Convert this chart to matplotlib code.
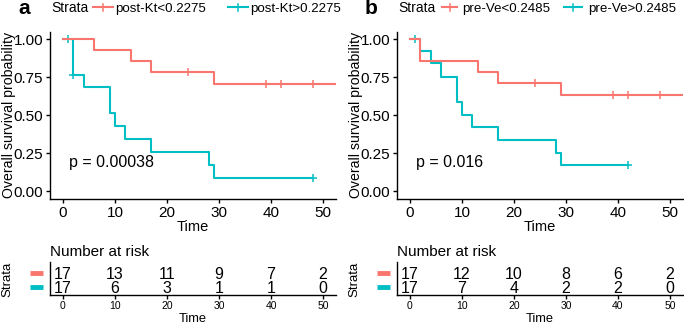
import numpy as np
import matplotlib
matplotlib.use("Agg")
import matplotlib.pyplot as plt
from matplotlib.lines import Line2D

plt.rcParams['font.family'] = ['Liberation Sans', 'DejaVu Sans']

RED = '#F8766D'
CYAN = '#00BFC4'

# ---- data ----
# panel a: post-Kt
a_labels = ['post-Kt<0.2275', 'post-Kt>0.2275']
a_low_t = [0, 6, 13, 17, 29, 55]
a_low_s = [1.0, 0.929, 0.857, 0.786, 0.707, 0.707]
a_low_cens = [24, 39, 42, 48]
a_high_t = [0, 2, 4, 9, 10, 12, 17, 28, 29, 48]
a_high_s = [1.0, 0.765, 0.684, 0.513, 0.428, 0.342, 0.257, 0.171, 0.086, 0.086]
a_high_cens = [1, 2, 48]
a_pval = 'p = 0.00038'
a_risk_low = [17, 13, 11, 9, 7, 2]
a_risk_high = [17, 6, 3, 1, 1, 0]

# panel b: pre-Ve
b_labels = ['pre-Ve<0.2485', 'pre-Ve>0.2485']
b_low_t = [0, 2, 13, 17, 29, 55]
b_low_s = [1.0, 0.857, 0.786, 0.714, 0.635, 0.635]
b_low_cens = [24, 39, 42, 48]
b_high_t = [0, 2, 4, 6, 9, 10, 12, 17, 28, 29, 42]
b_high_s = [1.0, 0.923, 0.846, 0.754, 0.589, 0.503, 0.419, 0.335, 0.251, 0.170, 0.170]
b_high_cens = [1, 42]
b_pval = 'p = 0.016'
b_risk_low = [17, 12, 10, 8, 6, 2]
b_risk_high = [17, 7, 4, 2, 2, 0]

risk_times = [0, 10, 20, 30, 40, 50]

W, H = 684, 325
fig = plt.figure(figsize=(W / 100, H / 100), dpi=100)


def box(left, top, width, height):
    return [left / W, 1 - (top + height) / H, width / W, height / H]


def style_axes(ax):
    for s in ['top', 'right']:
        ax.spines[s].set_visible(False)
    for s in ['left', 'bottom']:
        ax.spines[s].set_linewidth(1.0)
    ax.tick_params(length=3, width=1.0, colors='black')


def km(ax, t, s, cens, color):
    ax.step(t, s, where='post', color=color, lw=1.5, clip_on=True)
    idx = np.searchsorted(t, cens, side='right') - 1
    ax.plot(cens, np.array(s)[idx], ls='none', marker='+', ms=5.5, mew=1.1, color=color)


def panel(x0, letter, labels, low, high, pval, risk_low, risk_high, legend_x):
    ax = fig.add_axes(box(x0, 31.7, 286, 167))
    style_axes(ax)
    km(ax, *high, CYAN)
    km(ax, *low, RED)
    ax.set_xlim(-2.5, 52.5)
    ax.set_ylim(-0.05, 1.05)
    ax.set_xticks(risk_times)
    ax.set_yticks([0, 0.25, 0.5, 0.75, 1.0])
    ax.set_yticklabels(['0.00', '0.25', '0.50', '0.75', '1.00'])
    ax.tick_params(labelsize=11, pad=2)
    ax.set_xlabel('Time', fontsize=10.5, labelpad=0)
    fig.text((x0 - 41) / W, 1 - 115 / H, 'Overall survival probability', rotation=90,
             fontsize=10.2, ha='center', va='center')
    ax.text(1.2, 0.19, pval, fontsize=11.5, va='center', ha='left')

    # header: letter + legend
    fig.text((x0 - 32) / W, 1 - 14.5 / H, letter, fontsize=15, fontweight='bold', va='baseline', ha='left')
    fig.text((x0 + 1) / W, 1 - 12 / H, 'Strata', fontsize=10, va='baseline', ha='left')
    for col, lab, (k0, k1, tx) in zip([RED, CYAN], labels, legend_x):
        fig.add_artist(Line2D([k0 / W, k1 / W], [1 - 7 / H] * 2, color=col, lw=1.5))
        fig.add_artist(Line2D([(k0 + k1) / 2 / W] * 2, [1 - 3.5 / H, 1 - 10.5 / H], color=col, lw=1.1))
        fig.text(tx / W, 1 - 12 / H, lab, fontsize=9.6, va='baseline', ha='left')

    # risk table
    rt = fig.add_axes(box(x0, 262, 286, 33))
    style_axes(rt)
    rt.set_xlim(-2.5, 52.5)
    rt.set_ylim(0, 1)
    rt.set_yticks([])
    rt.set_xticks(risk_times)
    rt.tick_params(axis='x', labelsize=7.5, pad=1.5)
    rt.set_xlabel('Time', fontsize=9.3, labelpad=1)
    for xt, n in zip(risk_times, risk_low):
        rt.text(xt, 0.47, str(n), fontsize=11.5, ha='center', va='baseline')
    for xt, n in zip(risk_times, risk_high):
        rt.text(xt, 0.05, str(n), fontsize=11.5, ha='center', va='baseline')
    fig.text(x0 / W, 1 - 256.5 / H, 'Number at risk', fontsize=11, ha='left', va='baseline')
    for col, yy in [(RED, 272.5), (CYAN, 286.5)]:
        fig.add_artist(Line2D([(x0 - 20) / W, (x0 - 7) / W], [1 - yy / H] * 2, color=col, lw=3.5,
                              solid_capstyle='butt'))
    fig.text((x0 - 43) / W, 1 - 279 / H, 'Strata', rotation=90, fontsize=9.5, va='center', ha='center')


panel(50, 'a', a_labels, (a_low_t, a_low_s, a_low_cens), (a_high_t, a_high_s, a_high_cens),
      a_pval, a_risk_low, a_risk_high, [(93, 113, 115), (228, 248, 250)])
panel(397, 'b', b_labels, (b_low_t, b_low_s, b_low_cens), (b_high_t, b_high_s, b_high_cens),
      b_pval, b_risk_low, b_risk_high, [(442, 457, 462), (564, 582, 588)])

fig.savefig('out.png', dpi=100)
